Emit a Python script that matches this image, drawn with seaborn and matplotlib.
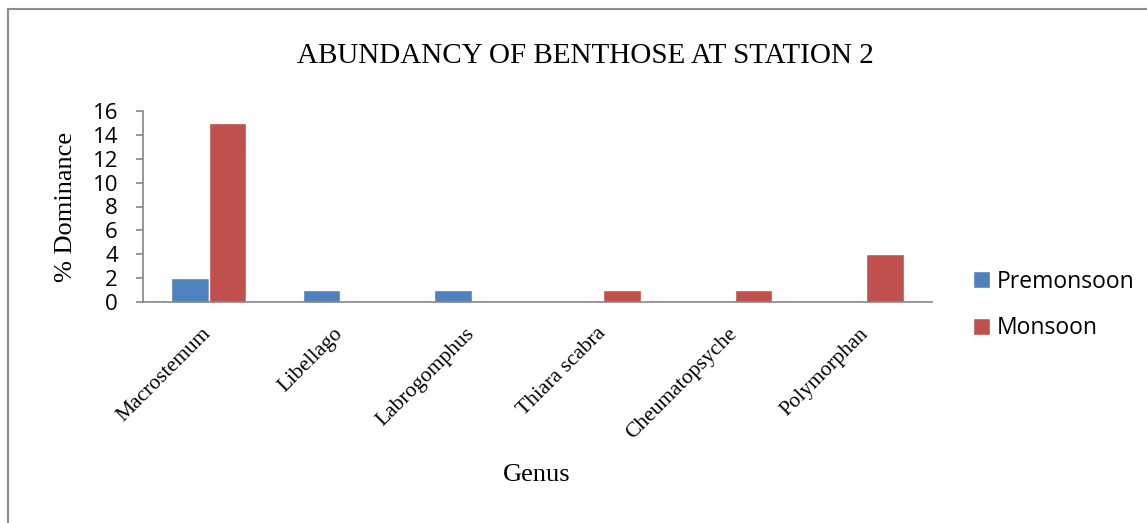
import pandas as pd
import seaborn as sns
import matplotlib.pyplot as plt
import matplotlib.transforms as mtransforms
from matplotlib.patches import Rectangle

genus = ["Macrostemum", "Libellago", "Labrogomphus", "Thiara scabra", "Cheumatopsyche", "Polymorphan"]
premonsoon = [2, 1, 1, 0, 0, 0]
monsoon = [15, 0, 0, 1, 1, 4]
seasons = ["Premonsoon", "Monsoon"]
colors = ["#4F81BD", "#C0504D"]

df = pd.DataFrame({
    "Genus": genus * 2,
    "value": premonsoon + monsoon,
    "Season": [seasons[0]] * len(genus) + [seasons[1]] * len(genus),
})

sns.set_style("white")
plt.rcParams["text.color"] = "black"
W, H = 1147, 523
fig = plt.figure(figsize=(W / 100, H / 100), dpi=100)
ax = fig.add_axes([143 / W, 1 - 302 / H, (932 - 143) / W, (302 - 111) / H])

sns.barplot(data=df, x="Genus", y="value", hue="Season", palette=colors,
            width=0.57, ax=ax, saturation=1, legend=True)

ax.set_ylim(0, 16)
ax.set_yticks(range(0, 17, 2))
ax.set_xlim(-0.5, len(genus) - 0.5)
for s in ["top", "right"]:
    ax.spines[s].set_visible(False)
for s in ["left", "bottom"]:
    ax.spines[s].set_color("#868686")
    ax.spines[s].set_linewidth(1.2)
ax.tick_params(axis="y", left=True, length=5, width=1.2, color="#868686",
               labelsize=16, pad=13, labelcolor="black")
ax.tick_params(axis="x", length=0, pad=16, labelcolor="black")
for t in ax.get_yticklabels():
    t.set_fontfamily("Open Sans")
ax.set_xticks(range(len(genus)))
ax.set_xticklabels(genus, rotation=45, ha="right", rotation_mode="anchor",
                   fontfamily="Liberation Serif", fontsize=15.5)
shift = mtransforms.ScaledTranslation(-7 / 100, 0, fig.dpi_scale_trans)
for t in ax.get_xticklabels():
    t.set_transform(t.get_transform() + shift)

ax.set_xlabel("")
ax.set_ylabel("% Dominance", fontfamily="Liberation Serif", fontsize=19,
              labelpad=11, color="black")
fig.text(537 / W, 1 - 475 / H, "Genus", ha="center", va="center",
         fontfamily="Liberation Serif", fontsize=19, color="black")
fig.text(585 / W, 1 - 56 / H, "ABUNDANCY OF BENTHOSE AT STATION 2", ha="center", va="center",
         fontfamily="Liberation Serif", fontsize=21, color="black")

leg = ax.legend(loc="center left", bbox_to_anchor=(952 / W, 1 - 305 / H),
                bbox_transform=fig.transFigure, frameon=False,
                prop={"family": "Open Sans", "size": 16.5},
                handlelength=0.75, handleheight=0.75, labelspacing=1.0, handletextpad=0.3)
for t in leg.get_texts():
    t.set_color("black")

fig.patches.append(Rectangle((8 / W, -0.1), 1.2, 1 - 9 / H + 0.1, transform=fig.transFigure,
                             fill=False, edgecolor="#8c8c8c", linewidth=1.5))

fig.savefig("out.png", dpi=100)
